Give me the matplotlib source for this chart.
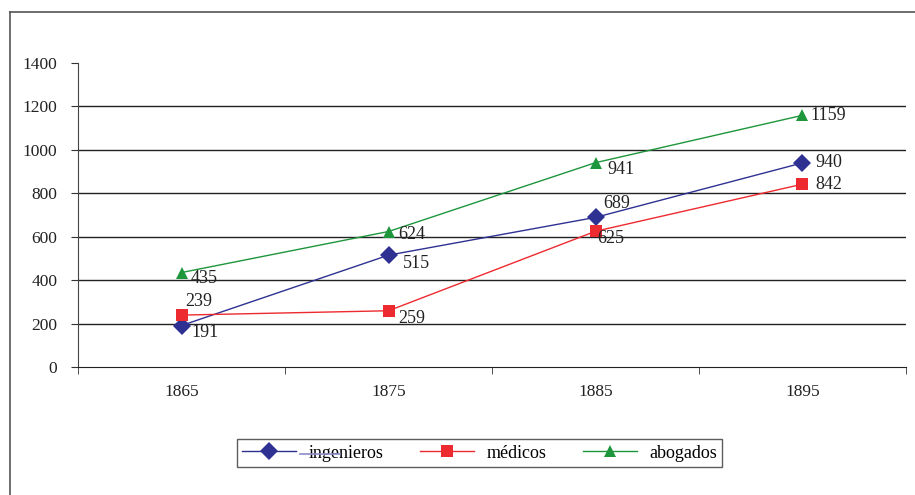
import matplotlib
matplotlib.use("Agg")
import matplotlib.pyplot as plt
from matplotlib.lines import Line2D

plt.rcParams['font.family'] = ['Liberation Serif', 'DejaVu Serif']

years = ["1865", "1875", "1885", "1895"]
ingenieros = [191, 515, 689, 940]
medicos = [239, 259, 625, 842]
abogados = [435, 624, 941, 1159]

# label offsets (pixels) for each value
off_ing = [(10, -7), (14, -8), (8, 14), (13, 0)]
off_med = [(4, 14), (10, -8), (2, -7), (13, 0)]
off_abo = [(9, -6), (10, -3), (12, -7), (8, 0)]

c_ing = "#2e3192"
c_med = "#ed2a2f"
c_abo = "#1e963c"

fig = plt.figure(figsize=(9.15, 4.95), dpi=100)
ax = fig.add_axes([78 / 915, 1 - 367 / 495, (906 - 78) / 915, (367 - 63) / 495])

x = list(range(len(years)))
ax.set_xlim(-0.5, len(years) - 0.5)
ax.set_ylim(0, 1400)

for yv in range(200, 1400, 200):
    ax.axhline(yv, color="#222222", lw=1.0, zorder=1)

series = [
    ("ingenieros", ingenieros, c_ing, "D", 9, off_ing),
    ("médicos", medicos, c_med, "s", 8, off_med),
    ("abogados", abogados, c_abo, "^", 9, off_abo),
]
for name, vals, col, mk, ms, offs in series:
    ax.plot(x, vals, color=col, lw=1.0, marker=mk, markersize=ms,
            markeredgewidth=0, label=name, zorder=3)
    for xi, v, (dx, dy) in zip(x, vals, offs):
        ax.annotate(str(v), (xi, v), xytext=(dx, dy), textcoords="offset pixels",
                    ha="left", va="center", fontsize=13, color="#222222", zorder=4)

ax.set_yticks(range(0, 1401, 200))
ax.set_xticks(x)
ax.set_xticklabels(years)
ax.set_xticks([i - 0.5 for i in range(len(years) + 1)], minor=True)
ax.tick_params(axis="x", which="major", length=0, pad=12, labelsize=12.5, colors="#222222")
ax.tick_params(axis="x", which="minor", length=5, direction="out", color="#333333")
ax.tick_params(axis="y", length=5, direction="out", pad=10, labelsize=12.5, color="#333333",
               labelcolor="#222222")
for s in ["top", "right"]:
    ax.spines[s].set_visible(False)
ax.spines["left"].set_color("#444444")
ax.spines["bottom"].set_color("#222222")

# outer frame
fig.add_artist(Line2D([10 / 915, 1.0], [1 - 12 / 495, 1 - 12 / 495], color="#555555", lw=1.2,
                      transform=fig.transFigure))
fig.add_artist(Line2D([10 / 915, 10 / 915], [0.0, 1 - 12 / 495], color="#555555", lw=1.2,
                      transform=fig.transFigure))

leg = ax.legend(loc="center", bbox_to_anchor=(479.5 / 915, 1 - 453 / 495),
                bbox_transform=fig.transFigure, ncol=3, frameon=True, fancybox=False,
                edgecolor="#333333", fontsize=13, handlelength=3.0, columnspacing=2.0,
                handletextpad=0.7, borderpad=0.3)
leg.get_frame().set_linewidth(1.0)

# faint stroke running through the first legend entry
fig.add_artist(Line2D([300 / 915, 340 / 915], [1 - 454 / 495, 1 - 454 / 495],
                      color="#8a8cc8", lw=1.2, transform=fig.transFigure, zorder=6))

fig.savefig("out.png", dpi=100)
